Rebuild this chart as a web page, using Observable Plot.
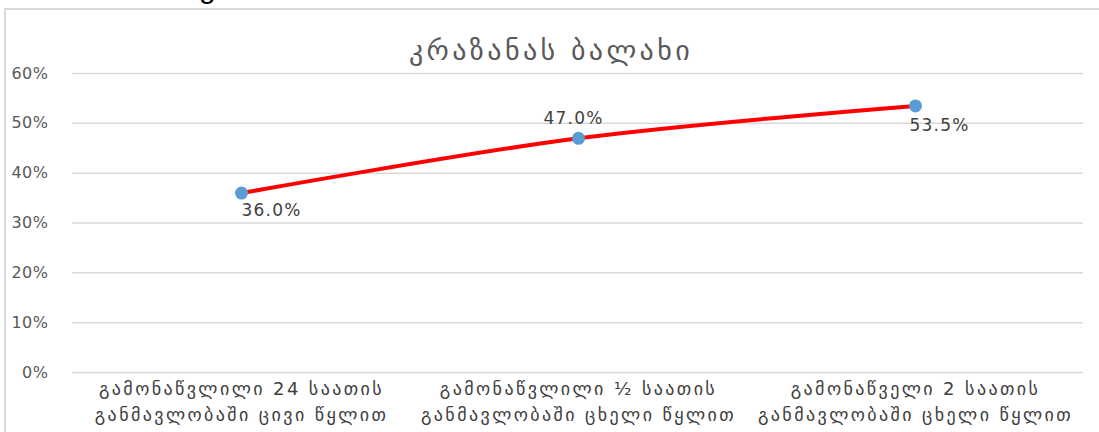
<!DOCTYPE html>
<html>
<head>
<meta charset="utf-8">
<script src="https://cdn.jsdelivr.net/npm/d3@7"></script>
<script src="https://cdn.jsdelivr.net/npm/@observablehq/plot@0.6"></script>
<style>
  html, body { margin: 0; padding: 0; background: #fff; }
  #wrap { position: relative; width: 1099px; height: 432px; overflow: hidden; }
  #frame { position: absolute; left: 4px; top: 8px; width: 1200px; height: 500px;
           border-left: 2px solid #d9d9d9; border-top: 2px solid #d9d9d9; box-sizing: border-box; }
  #cut { position: absolute; left: 199px; top: -29px; font: 30px "Liberation Sans", sans-serif; color: #000; }
  #chart { position: absolute; left: 0; top: 0; }
</style>
</head>
<body>
<div id="wrap">
  <div id="frame"></div>
  <div id="cut">g</div>
  <div id="chart"></div>
</div>
<script>
const title = "კრაზანას ბალახი";
const categories = [
  "გამონაწვლილი 24 საათის\nგანმავლობაში ცივი წყლით",
  "გამონაწვლილი ½ საათის\nგანმავლობაში ცხელი წყლით",
  "გამონაწველი 2 საათის\nგანმავლობაში ცხელი წყლით"
];
const values = [0.360, 0.470, 0.535];
const yTicks = [0, 0.1, 0.2, 0.3, 0.4, 0.5, 0.6];

const data = categories.map((c, i) => ({cat: c, v: values[i], i}));
const font = "DejaVu Sans, sans-serif";
const pct1 = d3.format(".1%");

const chart = Plot.plot({
  width: 1099,
  height: 432,
  marginTop: 73,
  marginBottom: 60,
  marginLeft: 72,
  marginRight: 16,
  style: {fontFamily: font, background: "transparent", overflow: "visible"},
  x: {type: "point", domain: categories, padding: 0.5, label: null},
  y: {domain: [0, 0.6], ticks: yTicks, label: null},
  marks: [
    Plot.gridY(yTicks, {stroke: "#d9d9d9", strokeOpacity: 1, strokeWidth: 1.5}),
    Plot.axisY(yTicks, {tickSize: 0, tickPadding: 24, tickFormat: d3.format(".0%"),
      fontSize: 16, fill: "#595959", label: null}),
    Plot.axisX({tickSize: 0, tickPadding: 4, fontSize: 18, fill: "#404040",
      lineHeight: 1.45, label: null}),
    Plot.line(data, {x: "cat", y: "v", stroke: "#ff0000", strokeWidth: 4, curve: "catmull-rom"}),
    Plot.dot(data, {x: "cat", y: "v", r: 6.5, fill: "#5b9bd5", stroke: "none"}),
    Plot.text(data.filter(d => d.i === 0), {x: "cat", y: "v", text: d => pct1(d.v), dx: 30, dy: 17, fontSize: 17, fill: "#404040"}),
    Plot.text(data.filter(d => d.i === 1), {x: "cat", y: "v", text: d => pct1(d.v), dx: -5, dy: -20, fontSize: 17, fill: "#404040"}),
    Plot.text(data.filter(d => d.i === 2), {x: "cat", y: "v", text: d => pct1(d.v), dx: 24, dy: 20, fontSize: 17, fill: "#404040"}),
    Plot.text([title], {frameAnchor: "top", dx: -27, dy: -33, fontSize: 28, fill: "#595959", fontFamily: font})
  ]
});
const svg = d3.select(chart);
svg.selectAll('g[aria-label="x-axis tick label"] text').style("letter-spacing", "2.4px");
svg.selectAll('g[aria-label="y-axis tick label"] text').style("letter-spacing", "0.5px");
svg.selectAll('g[aria-label="text"] text').each(function() {
  const t = d3.select(this);
  if (t.text() === title) t.style("letter-spacing", "3.4px");
  else t.style("letter-spacing", "1.2px");
});
document.getElementById("chart").appendChild(chart);
</script>
</body>
</html>
